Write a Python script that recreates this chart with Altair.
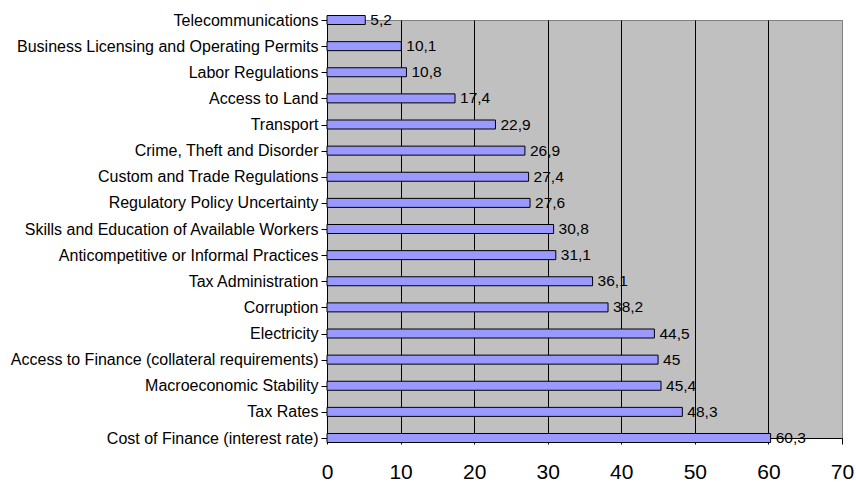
import altair as alt
import pandas as pd

categories = [
    "Telecommunications",
    "Business Licensing and Operating Permits",
    "Labor Regulations",
    "Access to Land",
    "Transport",
    "Crime, Theft and Disorder",
    "Custom and Trade Regulations",
    "Regulatory Policy Uncertainty",
    "Skills and Education of Available Workers",
    "Anticompetitive or Informal Practices",
    "Tax Administration",
    "Corruption",
    "Electricity",
    "Access to Finance (collateral requirements)",
    "Macroeconomic Stability",
    "Tax Rates",
    "Cost of Finance (interest rate)",
]
values = [5.2, 10.1, 10.8, 17.4, 22.9, 26.9, 27.4, 27.6, 30.8, 31.1, 36.1, 38.2, 44.5, 45, 45.4, 48.3, 60.3]
x_ticks = [0, 10, 20, 30, 40, 50, 60, 70]

df = pd.DataFrame({
    "cat": categories,
    "val": values,
    "lbl": [f"{v:g}".replace(".", ",") for v in values],
})

FONT = "Liberation Sans"

y_enc = alt.Y(
    "cat:N",
    sort=categories,
    scale=alt.Scale(type="point", padding=0),
    axis=alt.Axis(
        title=None,
        labelFontSize=16,
        labelFont=FONT,
        labelColor="black",
        labelPadding=3,
        tickSize=6,
        tickColor="black",
        domainColor="black",
        grid=False,
        labelLimit=400,
    ),
)
x_enc = alt.X(
    "val:Q",
    scale=alt.Scale(domain=[0, 70], nice=False),
    axis=alt.Axis(
        title=None,
        values=x_ticks,
        labelFontSize=21,
        labelFont=FONT,
        labelColor="black",
        labelPadding=17,
        labelFlush=False,
        tickSize=6,
        tickColor="black",
        domainColor="black",
        grid=True,
        gridColor=alt.condition("datum.value == 70", alt.value("#808080"), alt.value("black")),
        gridOpacity=1,
    ),
)

bars = alt.Chart(df).mark_bar(
    size=9, color="#9999FF", stroke="black", strokeWidth=1, clip=False
).encode(x=x_enc, y=y_enc)

texts = alt.Chart(df).mark_text(
    align="left", baseline="middle", dx=5, fontSize=15.5, font=FONT, color="black"
).encode(x="val:Q", y=alt.Y("cat:N", sort=categories), text="lbl:N")

chart = (
    alt.layer(bars, texts)
    .properties(
        width=515,
        height=418,
        autosize=alt.AutoSizeParams(type="none"),
        padding={"left": 327, "top": 20, "right": 14, "bottom": 44},
        background="white",
    )
    .configure_view(fill="#C0C0C0", stroke="#808080", strokeWidth=1)
)

chart.save("out.html", embed_options={"renderer": "svg", "actions": False})
